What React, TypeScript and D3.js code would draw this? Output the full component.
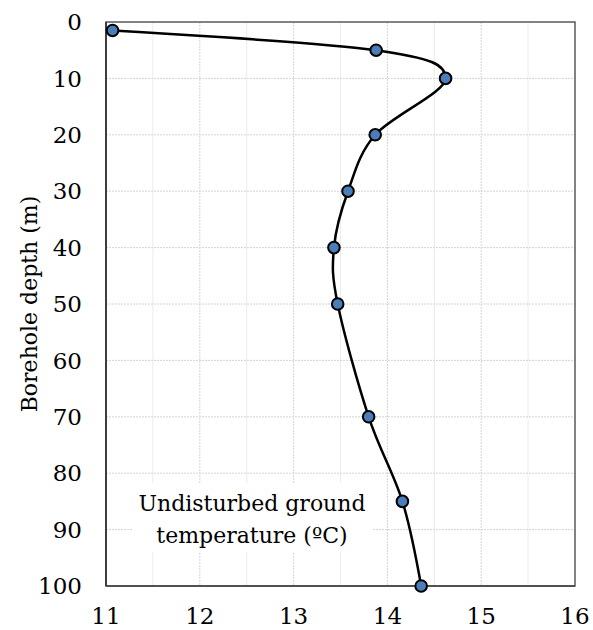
import React from "react";
import * as d3 from "d3";

const depths = [1.5, 5, 10, 20, 30, 40, 50, 70, 85, 100];
const temps = [11.07, 13.88, 14.62, 13.87, 13.58, 13.43, 13.47, 13.8, 14.16, 14.36];
const xTicks = [11, 12, 13, 14, 15, 16];
const yTicks = [0, 10, 20, 30, 40, 50, 60, 70, 80, 90, 100];
const xMinor = [11.5, 12.5, 13.5, 14.5, 15.5];
const labelLines = ["Undisturbed ground", "temperature (ºC)"];

const W = 593;
const H = 630;
const M = { left: 106, right: 575, top: 22, bottom: 586 };
const FONT = "'DejaVu Serif', 'Liberation Serif', 'Times New Roman', serif";

export default function App() {
  const x = d3.scaleLinear().domain([11, 16]).range([M.left, M.right]);
  const y = d3.scaleLinear().domain([0, 100]).range([M.top, M.bottom]);
  const pts = depths.map((d, i) => ({ d, t: temps[i] }));
  const line = d3
    .line<{ d: number; t: number }>()
    .x((p) => x(p.t))
    .y((p) => y(p.d))
    .curve(d3.curveCardinal.tension(0));

  return (
    <svg width={W} height={H} style={{ position: "absolute", left: 0, top: 0, background: "#fff" }}>
      <rect x={0} y={0} width={W} height={H} fill="#fff" />
      {xMinor.map((v) => (
        <line key={"xm" + v} x1={x(v)} x2={x(v)} y1={M.top} y2={M.bottom} stroke="#ececec" strokeWidth={1} />
      ))}
      {xTicks.slice(1, -1).map((v) => (
        <line key={"xg" + v} x1={x(v)} x2={x(v)} y1={M.top} y2={M.bottom} stroke="#d4d4d4" strokeWidth={1} strokeDasharray="2,1" />
      ))}
      {yTicks.slice(1, -1).map((v) => (
        <line key={"yg" + v} x1={M.left} x2={M.right} y1={y(v)} y2={y(v)} stroke="#d4d4d4" strokeWidth={1} strokeDasharray="2,1" />
      ))}
      <rect x={132} y={483} width={240} height={69} fill="#fff" />
      <rect x={M.left} y={M.top} width={M.right - M.left} height={M.bottom - M.top} fill="none" stroke="#595959" strokeWidth={1.5} />
      <line x1={M.left} x2={M.left} y1={M.top} y2={M.bottom} stroke="#262626" strokeWidth={1.5} />
      <line x1={M.left} x2={M.right} y1={M.bottom} y2={M.bottom} stroke="#404040" strokeWidth={1.5} />
      <path d={line(pts) || ""} fill="none" stroke="#000" strokeWidth={2.5} />
      {pts.map((p, i) => (
        <circle key={i} cx={x(p.t)} cy={y(p.d)} r={5.8} fill="#4a7ebb" stroke="#000" strokeWidth={2} />
      ))}
      {xTicks.map((v) => (
        <text key={"xt" + v} x={x(v)} y={624} textAnchor="middle" style={{ fontFamily: FONT, fontSize: 23 }} fill="#000">
          {v}
        </text>
      ))}
      {yTicks.map((v) => (
        <text key={"yt" + v} x={82} y={y(v)} dy="0.36em" textAnchor="end" style={{ fontFamily: FONT, fontSize: 23 }} fill="#000">
          {v}
        </text>
      ))}
      <text transform={`translate(37,${(M.top + M.bottom) / 2}) rotate(-90)`} textAnchor="middle" style={{ fontFamily: FONT, fontSize: 22 }} fill="#000">
        Borehole depth (m)
      </text>
      {labelLines.map((s, i) => (
        <text key={"lb" + i} x={252} y={511 + i * 32} textAnchor="middle" style={{ fontFamily: FONT, fontSize: 22 }} fill="#000">
          {s}
        </text>
      ))}
    </svg>
  );
}
